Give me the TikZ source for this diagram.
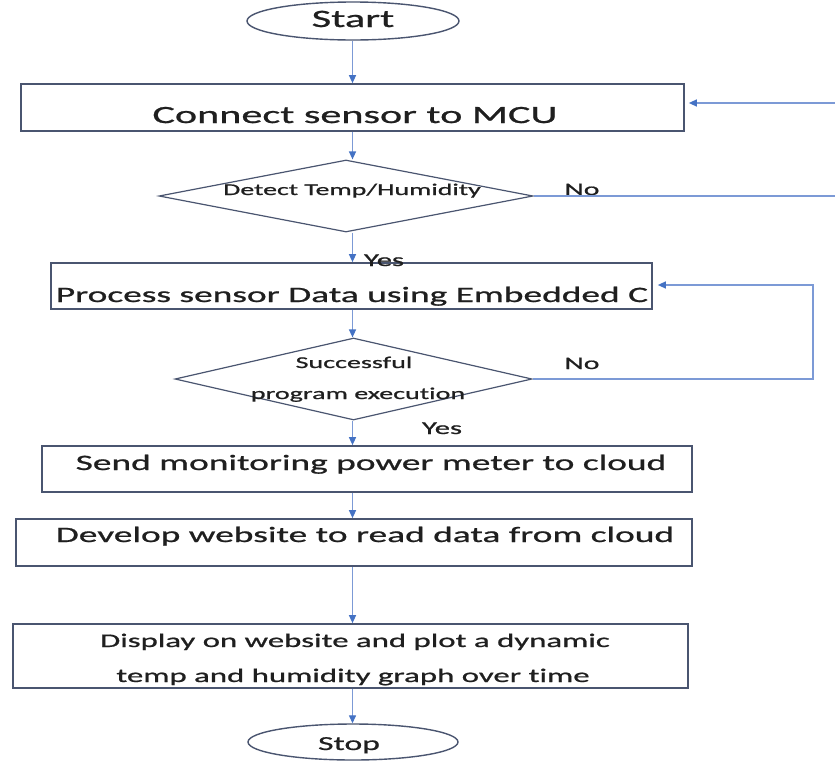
\documentclass[tikz,border=0pt]{standalone}
\usepackage{fontspec}
\newfontfamily\flowfont[FakeStretch=1.7,FakeBold=0.9,RawFeature={-liga}]{Carlito}
\newcommand\flowsize[1]{\flowfont\fontsize{#1}{#1}\selectfont}
\usetikzlibrary{shapes.geometric,arrows.meta}
\definecolor{boxline}{HTML}{4A5570}
\definecolor{flowblue}{HTML}{7C9AD6}
\definecolor{tipblue}{HTML}{4472C4}
\definecolor{inktext}{HTML}{1F1F1F}
\begin{document}
\begin{tikzpicture}[x=1pt,y=-1pt,
  box/.style={draw=boxline,line width=1.7pt,rectangle,inner sep=0pt},
  oval/.style={draw=boxline,line width=1.4pt,ellipse,inner sep=0pt},
  choice/.style={draw=boxline,line width=1.2pt,diamond,inner sep=0pt},
  txt/.style={text=inktext,inner sep=0pt,anchor=base},
  flowline/.style={draw=flowblue,line width=1.3pt,
    -{Triangle[length=8pt,width=7pt,color=tipblue]}},
  plainline/.style={draw=flowblue,line width=1.3pt}]

\fill[white] (0,0) rectangle (835,761);
\useasboundingbox (0,0) rectangle (835,761);

% shapes
\node[oval,minimum width=212pt,minimum height=38pt] (start) at (353,21) {};
\node[box,minimum width=663pt,minimum height=47pt] (connect) at (352.5,107.5) {};
\node[choice,minimum width=374pt,minimum height=72pt] (d1) at (346,196) {};
\node[box,minimum width=601pt,minimum height=46pt] (process) at (351.5,286) {};
\node[choice,minimum width=357pt,minimum height=82pt] (d2) at (353.5,379) {};
\node[box,minimum width=650pt,minimum height=46pt] (send) at (367,469) {};
\node[box,minimum width=676pt,minimum height=47pt] (develop) at (354,542.5) {};
\node[box,minimum width=675pt,minimum height=64pt] (display) at (350.5,656) {};
\node[oval,minimum width=210pt,minimum height=36pt] (stop) at (353,742) {};

% texts
\node[txt,font=\flowsize{25}] (tStart) at (353,27) {Start};
\node[txt,font=\flowsize{24.8}] (tConnect) at (355,123) {Connect sensor to MCU};
\node[txt,font=\flowsize{16.4}] (tDetect) at (352,195) {Detect Temp/Humidity};
\node[txt,font=\flowsize{22}] (tProcess) at (352,302) {Process sensor Data using Embedded C};
\node[txt,font=\flowsize{16.5}] (tSucc) at (354,368) {Successful};
\node[txt,font=\flowsize{16.5}] (tExec) at (358,399) {program execution};
\node[txt,font=\flowsize{22}] (tSend) at (371,470) {Send monitoring power meter to cloud};
\node[txt,font=\flowsize{22}] (tDevelop) at (365,542) {Develop website to read data from cloud};
\node[txt,font=\flowsize{19.3}] (tDisp1) at (355,647) {Display on website and plot a dynamic};
\node[txt,font=\flowsize{19.3}] (tDisp2) at (353,682) {temp and humidity graph over time};
\node[txt,font=\flowsize{19.8}] (tStop) at (349,750) {Stop};

% branch labels
\node[txt,font=\flowsize{17.5}] (no1) at (582,195) {No};
\node[txt,font=\flowsize{17.5}] (no2) at (582,369) {No};
\node[txt,font=\flowsize{18}] (yes1) at (384,266) {Yes};
\node[txt,font=\flowsize{18}] (yes2) at (442,434) {Yes};

% helper points
\coordinate (spine) at (352.5,0);
\coordinate (in1) at (835,103);
\coordinate (out1) at (835,196);
\coordinate (loop) at (813,379);
\coordinate (loopTop) at (813,285);

% main flow
\draw[flowline] (spine |- start.south) -- (spine |- connect.north);
\draw[flowline] (spine |- connect.south) -- (spine |- d1.north);
\draw[flowline] (spine |- d1.south) -- (spine |- process.north);
\draw[flowline] (spine |- process.south) -- (spine |- d2.north);
\draw[flowline] (spine |- d2.south) -- (spine |- send.north);
\draw[flowline] (spine |- send.south) -- (spine |- develop.north);
\draw[flowline] (spine |- develop.south) -- (spine |- display.north);
\draw[flowline] (spine |- display.south) -- (spine |- stop.north);

% side branches
\draw[flowline,shorten >=4pt] (in1) -- (connect.east |- in1);
\draw[plainline] (d1.east) -- (out1);
\draw[flowline,shorten >=5pt] (d2.east) -- (loop) -- (loopTop) -- (process.east |- loopTop);
\end{tikzpicture}
\end{document}
